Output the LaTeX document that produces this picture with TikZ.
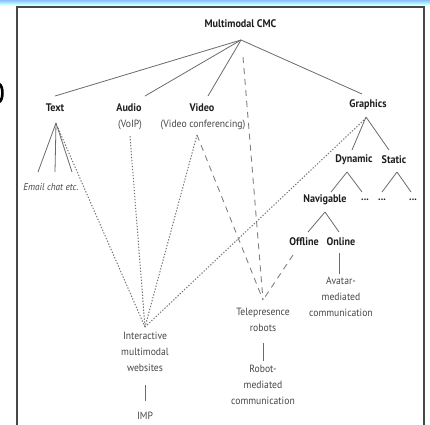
\documentclass[tikz,border=0pt]{standalone}
\usepackage{fontspec}
\setmainfont{PT Sans}[FakeStretch=0.92]
\begin{document}
\begin{tikzpicture}[x=1pt,y=-1pt,
  lbl/.style={font=\fontsize{10.5}{16}\selectfont, text=black!72, inner sep=0pt, align=center},
  hdr/.style={font=\bfseries\fontsize{11}{13}\selectfont, text=black!88, inner sep=0pt},
  tline/.style={draw=black!58, line width=0.8pt},
  dotline/.style={draw=black!55, line width=1pt, dash pattern=on 1.3pt off 1.7pt},
  dashline/.style={draw=black!50, line width=0.9pt, dash pattern=on 6pt off 5pt}]
\useasboundingbox (0,0) rectangle (430,424);
\fill[white] (0,0) rectangle (430,424);
% top bar
\shade[top color=cyan!45!blue!45, bottom color=cyan!25!white] (0,0) rectangle (430,4);
% fragment at left
\fill[black] (0,83) .. controls (5,85) and (5,101) .. (0,103) -- (0,99) .. controls (1.5,97) and (1.5,89) .. (0,87) -- cycle;
% frame
\draw[black!72, line width=2pt] (17,440) -- (17,7) -- (424,7) -- (424,440);

% headings
\node[hdr] (mcmc) at (240.5,24) {Multimodal CMC};
\coordinate (A) at (241,40);
\coordinate (Ad) at (243,57);
\node[hdr] (text) at (55,108) {Text};
\node[hdr] (audio) at (129,108) {Audio};
\node[lbl] (voip) at (130,125) {(VoIP)};
\node[hdr] (video) at (202,108) {Video};
\node[lbl] (vconf) at (203,125) {(Video conferencing)};
\node[hdr] (graphics) at (368,105) {Graphics};

\coordinate (textT) at (55,96);
\coordinate (audioT) at (145,96);
\coordinate (videoT) at (208,96);
\coordinate (graphT) at (362,94);
\draw[tline] (A) -- (textT);
\draw[tline] (A) -- (audioT);
\draw[tline] (A) -- (videoT);
\draw[tline] (A) -- (graphT);

% text subtree
\coordinate (textB) at (56,123);
\coordinate (e1) at (38,172);
\coordinate (e2) at (55,172);
\coordinate (e3) at (72,172);
\draw[tline] (textB) -- (e1);
\draw[tline] (textB) -- (e2);
\draw[tline] (textB) -- (e3);
\node[lbl, font=\itshape\fontsize{10}{12}\selectfont] (email) at (51,187) {Email chat etc.};

% interactive websites
\coordinate (I) at (145,327);
\coordinate (textD) at (58,128);
\coordinate (audioB) at (130,136);
\coordinate (videoB) at (197,135);
\coordinate (graphB) at (366,118);
\draw[dotline] (textD) -- (I);
\draw[dotline] (audioB) -- (I);
\draw[dotline] (videoB) -- (I);
\draw[dotline] (graphB) -- (I);
\node[lbl, anchor=north] (imw) at (145,332) {Interactive\\multimodal\\websites};
\coordinate (imwB) at (145,385);
\coordinate (impT) at (145,401);
\draw[tline] (imwB) -- (impT);
\node[lbl] (imp) at (145,416) {IMP};

% graphics subtree
\coordinate (gB) at (366,117);
\coordinate (dynT) at (352,150);
\coordinate (statT) at (389,150);
\draw[tline] (gB) -- (dynT);
\draw[tline] (gB) -- (statT);
\node[hdr] (dyn) at (354,160) {Dynamic};
\node[hdr] (stat) at (394,160) {Static};
\coordinate (dynB) at (347,172);
\coordinate (statB) at (397,172);
\coordinate (navT) at (331,192);
\coordinate (d1T) at (362,192);
\coordinate (d2T) at (382,192);
\coordinate (d3T) at (411,192);
\draw[tline] (dynB) -- (navT);
\draw[tline] (dynB) -- (d1T);
\draw[tline] (statB) -- (d2T);
\draw[tline] (statB) -- (d3T);
\node[hdr] (nav) at (325,200) {Navigable};
\node[hdr] (d1) at (365,200) {...};
\node[hdr] (d2) at (382,200) {...};
\node[hdr] (d3) at (413,200) {...};
\coordinate (navB) at (325,212);
\coordinate (offT) at (308,232);
\coordinate (onT) at (339,232);
\draw[tline] (navB) -- (offT);
\draw[tline] (navB) -- (onT);
\node[hdr] (off) at (304,242) {Offline};
\node[hdr] (on) at (341,242) {Online};
\coordinate (onB) at (339,253);
\coordinate (avT) at (339,274);
\draw[tline] (onB) -- (avT);
\node[lbl, anchor=north] (avatar) at (341,277) {Avatar-\\mediated\\communication};

% telepresence
\coordinate (T) at (263,300);
\coordinate (offB) at (293,255);
\draw[dashline] (Ad) -- (T);
\draw[dashline] (videoB) -- (T);
\draw[dashline] (offB) -- (T);
\node[lbl, anchor=north] (tele) at (263,308) {Telepresence\\robots};
\coordinate (teleB) at (263,343);
\coordinate (robT) at (263,361);
\draw[tline] (teleB) -- (robT);
\node[lbl, anchor=north] (robot) at (263,365) {Robot-\\mediated\\communication};
\end{tikzpicture}
\end{document}
